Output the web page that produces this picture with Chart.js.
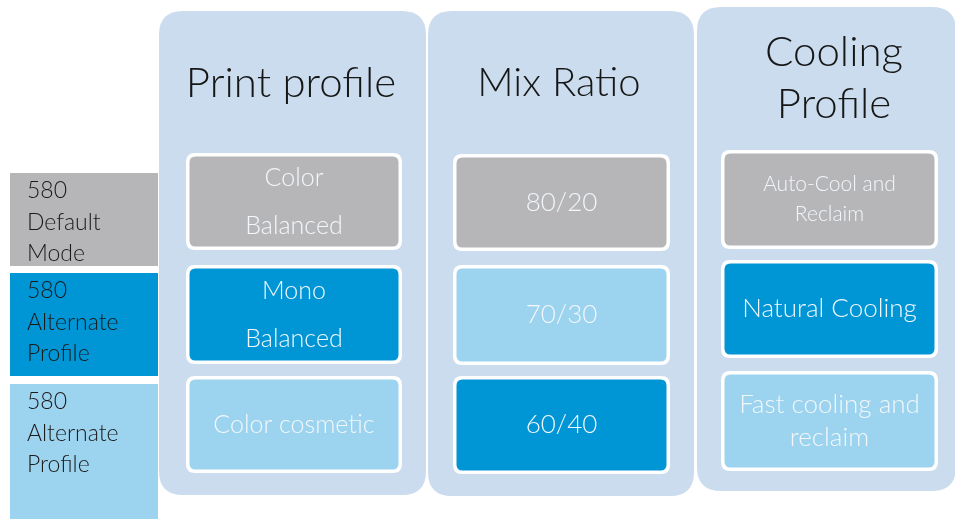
<!DOCTYPE html>
<html>
<head>
<meta charset="utf-8">
<script src="https://cdn.jsdelivr.net/npm/chart.js@4.4.1/dist/chart.umd.min.js"></script>
<style>
  html, body { margin: 0; padding: 0; background: #ffffff; }
  #wrap { width: 955px; height: 519px; }
</style>
</head>
<body>
<div id="wrap"><canvas id="c" width="955" height="519"></canvas></div>
<script>
// ---------- DATA ----------
const modeLabels = ['580\nDefault\nMode', '580\nAlternate\nProfile', '580\nAlternate\nProfile'];
const columnTitles = ['Print profile', 'Mix Ratio', 'Cooling\nProfile'];
const printProfile = ['Color\nBalanced', 'Mono\nBalanced', 'Color cosmetic'];
const mixRatio = ['80/20', '70/30', '60/40'];
const coolingProfile = ['Auto-Cool and\nReclaim', 'Natural Cooling', 'Fast cooling and\nreclaim'];
// which 580 mode each option belongs to (index into modeLabels)
const printProfileMode = [0, 1, 2];
const mixRatioMode = [0, 2, 1];
const coolingProfileMode = [0, 1, 2];

// ---------- STYLE / LAYOUT ----------
const modeColors = ['#b6b6b8', '#0096d6', '#9cd3ee'];
const panelColor = '#cadcee';
const FONT = 'Lato, "Open Sans", sans-serif';
// layout in scale units (x: 0..955, y: 0..519)
const legendX = [10, 158];
const legendY = [[173, 266], [273, 376], [384, 520]];
const panels = [
  { x: [159, 426], y: [11, 495], titleX: 291, titleY: [83], titleSize: 42, cellX: [186, 402], cellY: [[153, 250], [265, 364], [376, 473]] },
  { x: [428, 694], y: [11, 496], titleX: 559, titleY: [83], titleSize: 40, cellX: [453, 670], cellY: [[154, 251], [265, 365], [376, 474]] },
  { x: [697, 956], y: [7, 491], titleX: 834, titleY: [52, 104], titleSize: 42, cellX: [721, 938], cellY: [[150, 249], [260, 358], [371, 471]] }
];
// per-cell text style [fontSize, lineGap]
const cellText = [
  [[25, 48], [25, 48], [25, 0]],
  [[26, 0], [26, 0], [26, 0]],
  [[21, 30], [26, 0], [26, 33]]
];

const columnData = [printProfile, mixRatio, coolingProfile];
const columnModes = [printProfileMode, mixRatioMode, coolingProfileMode];

function rr(ctx, x, y, w, h, r) {
  ctx.beginPath();
  ctx.moveTo(x + r, y);
  ctx.lineTo(x + w - r, y);
  ctx.quadraticCurveTo(x + w, y, x + w, y + r);
  ctx.lineTo(x + w, y + h - r);
  ctx.quadraticCurveTo(x + w, y + h, x + w - r, y + h);
  ctx.lineTo(x + r, y + h);
  ctx.quadraticCurveTo(x, y + h, x, y + h - r);
  ctx.lineTo(x, y + r);
  ctx.quadraticCurveTo(x, y, x + r, y);
  ctx.closePath();
}

const diagramPlugin = {
  id: 'diagram',
  afterDraw(chart) {
    const ctx = chart.ctx;
    const sx = chart.scales.x, sy = chart.scales.y;
    const X = v => sx.getPixelForValue(v);
    const Y = v => sy.getPixelForValue(v);
    ctx.save();
    ctx.textBaseline = 'middle';

    // legend boxes
    modeLabels.forEach((lab, i) => {
      const x0 = X(legendX[0]), x1 = X(legendX[1]);
      const y0 = Y(legendY[i][0]), y1 = Y(legendY[i][1]);
      ctx.fillStyle = modeColors[i];
      ctx.fillRect(x0, y0, x1 - x0, y1 - y0);
      ctx.fillStyle = '#1b1b1b';
      ctx.font = '300 23px ' + FONT;
      ctx.textAlign = 'left';
      lab.split('\n').forEach((ln, k) => ctx.fillText(ln, x0 + 17, y0 + 18 + k * 31.5));
    });

    // panels
    panels.forEach((p, c) => {
      const x0 = X(p.x[0]), x1 = X(p.x[1]), y0 = Y(p.y[0]), y1 = Y(p.y[1]);
      ctx.fillStyle = panelColor;
      rr(ctx, x0, y0, x1 - x0, y1 - y0, 24);
      ctx.fill();
      // title
      ctx.fillStyle = '#161616';
      ctx.font = '300 ' + p.titleSize + 'px ' + FONT;
      ctx.textAlign = 'center';
      columnTitles[c].split('\n').forEach((ln, k) => ctx.fillText(ln, X(p.titleX), Y(p.titleY[k])));
      // cells
      columnData[c].forEach((lab, r) => {
        const cx0 = X(p.cellX[0]), cx1 = X(p.cellX[1]);
        const cy0 = Y(p.cellY[r][0]), cy1 = Y(p.cellY[r][1]);
        ctx.fillStyle = '#ffffff';
        rr(ctx, cx0, cy0, cx1 - cx0, cy1 - cy0, 9);
        ctx.fill();
        ctx.fillStyle = modeColors[columnModes[c][r]];
        rr(ctx, cx0 + 3.5, cy0 + 3.5, cx1 - cx0 - 7, cy1 - cy0 - 7, 6);
        ctx.fill();
        const [fs, gap] = cellText[c][r];
        ctx.fillStyle = '#f2f7fb';
        ctx.font = '300 ' + fs + 'px ' + FONT;
        const lines = lab.split('\n');
        const mx = (cx0 + cx1) / 2, my = (cy0 + cy1) / 2;
        lines.forEach((ln, k) => ctx.fillText(ln, mx, my + (k - (lines.length - 1) / 2) * gap));
      });
    });
    ctx.restore();
  }
};

new Chart(document.getElementById('c'), {
  type: 'scatter',
  data: { datasets: [{ data: [] }] },
  options: {
    responsive: false,
    animation: false,
    layout: { padding: 0 },
    plugins: { legend: { display: false }, tooltip: { enabled: false } },
    scales: {
      x: { type: 'linear', min: 0, max: 955, display: false },
      y: { type: 'linear', min: 0, max: 519, reverse: true, display: false }
    }
  },
  plugins: [diagramPlugin]
});
</script>
</body>
</html>
